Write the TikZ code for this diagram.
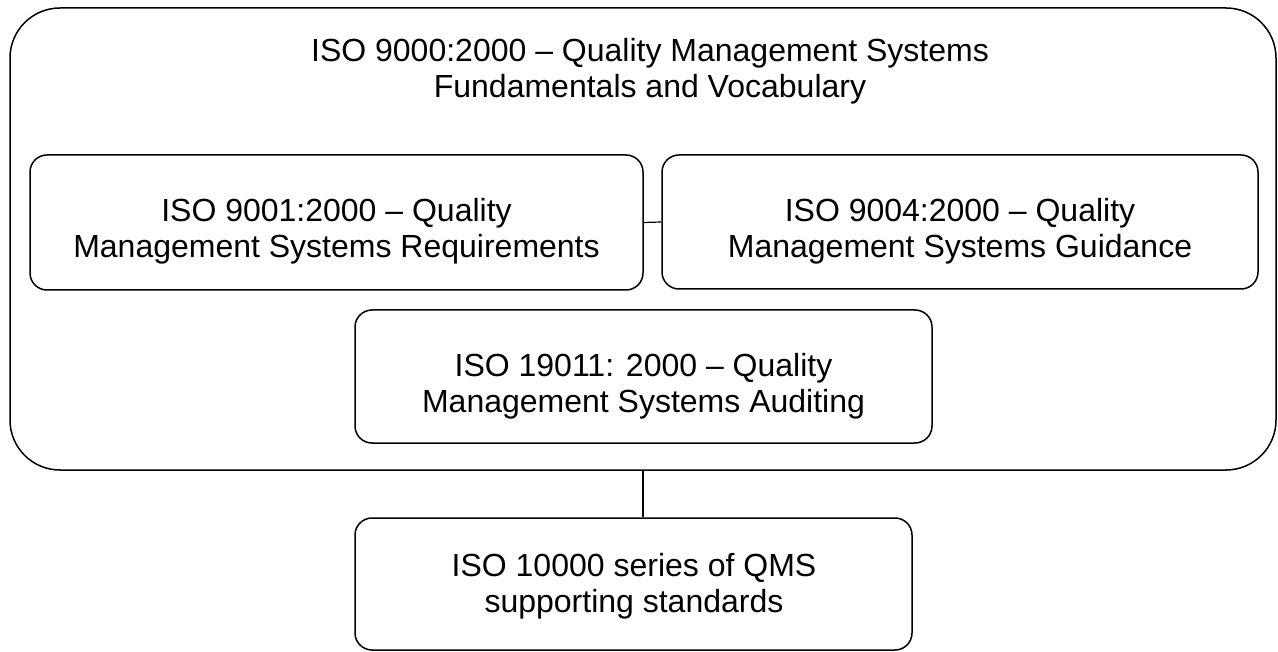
\documentclass[tikz,border=0pt]{standalone}
\usepackage{fontspec}
\setmainfont{Liberation Sans}
\usetikzlibrary{positioning}
\tikzset{
	outerbox/.style={draw, rounded corners=50pt, line width=1.5pt, inner sep=0pt},
	stdbox/.style={draw, rounded corners=17pt, line width=1.5pt, inner sep=0pt},
	boxtext/.style={align=center, inner sep=0pt, font=\fontsize{32}{36}\selectfont},
	link/.style={color=black, line width=1.2pt}
}
\begin{document}
\begin{tikzpicture}[x=1pt, y=-1pt]
	\useasboundingbox (0,0) rectangle (1278,652);
	
	% the enclosing family box
	\node[outerbox, minimum width=1266pt, minimum height=462pt] (QMS) at (643,239) {};
	\node[boxtext] (QMStext) at (650,71) {ISO 9000:2000 – Quality Management Systems\\Fundamentals and Vocabulary};
	
	\node[stdbox, minimum width=613pt, minimum height=135pt] (B9001) at (336.5,222.5) {};
	\node[stdbox, minimum width=596pt, minimum height=134pt] (B9004) at (960,222) {};
	\node[stdbox, minimum width=577pt, minimum height=133pt] (B19011) at (643.5,376.5) {};
	\node[stdbox, minimum width=557pt, minimum height=132pt] (B10000) at (633.5,584) {};
	
	\node[boxtext] (T9001) at (336.5,231) {ISO 9001:2000 – Quality\\Management Systems Requirements};
	\node[boxtext] (T9004) at (960,231) {ISO 9004:2000 – Quality\\Management Systems Guidance};
	\node[boxtext] (T19011) at (643.5,386) {ISO 19011: 2000 – Quality\\Management Systems Auditing};
	\node[boxtext] (T10000) at (634,586) {ISO 10000 series of QMS\\supporting standards};
	
	\draw[link] (B9001.east) -- (B9004.west);
	\draw[link] (QMS.south) -- (QMS.south |- B10000.north);
\end{tikzpicture}
\end{document}
